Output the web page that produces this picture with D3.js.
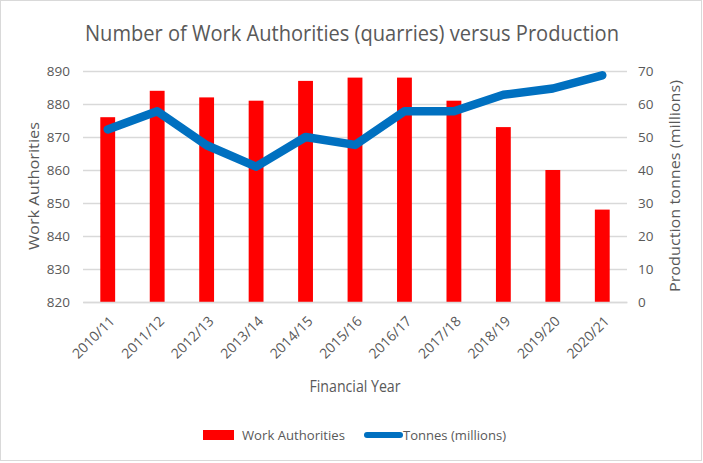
<!DOCTYPE html>
<html>
<head>
<meta charset="utf-8">
<script src="https://cdn.jsdelivr.net/npm/d3@7"></script>
<style>
  body { margin: 0; background: #fff; }
  svg text { font-family: "Open Sans", "Noto Sans", sans-serif; fill: #595959; }
</style>
</head>
<body>
<svg class="combo" width="703" height="463"></svg>
<script>
const years = ['2010/11','2011/12','2012/13','2013/14','2014/15','2015/16','2016/17','2017/18','2018/19','2019/20','2020/21'];
const workAuthorities = [876, 884, 882, 881, 887, 888, 888, 881, 873, 860, 848];
const tonnes = [52.3, 57.8, 47.5, 41, 50, 47.6, 57.8, 57.8, 62.8, 64.7, 68.7];
const leftTicks = [820, 830, 840, 850, 860, 870, 880, 890];
const rightTicks = [0, 10, 20, 30, 40, 50, 60, 70];

function drawCombo(){
  const margin = { top: 71, left: 83, right: 76, bottom: 161 };
  const width = 703 - margin.left - margin.right;
  const height = 463 - margin.top - margin.bottom;

  const svg = d3.select('svg.combo');

  // outer frame
  svg.append('rect')
    .attr('x', 0.5).attr('y', 0.5)
    .attr('width', 701).attr('height', 460)
    .attr('fill', 'none')
    .attr('stroke', '#d9d9d9');

  const g = svg.append('g')
    .attr('transform', `translate(${margin.left}, ${margin.top})`);

  const x = d3.scaleBand()
    .domain(years)
    .range([0, width])
    .paddingInner(0.7)
    .paddingOuter(0.35);

  const yL = d3.scaleLinear().domain([820, 890]).range([height, 0]);
  const yR = d3.scaleLinear().domain([0, 70]).range([height, 0]);

  // gridlines
  g.append('g')
    .attr('class', 'grid')
    .call(d3.axisLeft(yL).tickValues(leftTicks).tickSize(-width).tickFormat(''))
    .call(a => a.select('.domain').remove())
    .call(a => a.selectAll('line').attr('stroke', '#d9d9d9').attr('stroke-width', 1.3));

  // left axis labels
  g.append('g')
    .call(d3.axisLeft(yL).tickValues(leftTicks).tickSize(0).tickPadding(13))
    .call(a => a.select('.domain').remove())
    .call(a => a.selectAll('text').style('font-size', '13.5px').attr('fill', '#595959'));

  // right axis labels
  g.append('g')
    .attr('transform', `translate(${width}, 0)`)
    .call(d3.axisRight(yR).tickValues(rightTicks).tickSize(0).tickPadding(11))
    .call(a => a.select('.domain').remove())
    .call(a => a.selectAll('text').style('font-size', '13.5px').attr('fill', '#595959'));

  // bars
  g.selectAll('rect.bar')
    .data(years)
    .enter()
    .append('rect')
      .attr('class', 'bar')
      .attr('x', d => x(d))
      .attr('width', x.bandwidth())
      .attr('y', (d, i) => yL(workAuthorities[i]))
      .attr('height', (d, i) => height - yL(workAuthorities[i]))
      .attr('fill', '#ff0000');

  // x axis
  const xAxis = g.append('g')
    .attr('transform', `translate(0, ${height})`)
    .call(d3.axisBottom(x).tickSize(0).tickPadding(0));
  xAxis.select('.domain').attr('stroke', '#d9d9d9').attr('stroke-width', 1.3);
  xAxis.selectAll('text')
    .style('font-size', '14px')
    .attr('fill', '#595959')
    .style('text-anchor', 'end')
    .attr('dy', 0)
    .attr('transform', 'translate(8, 20) rotate(-45)');

  // line
  const line = d3.line()
    .x((d, i) => x(years[i]) + x.bandwidth() / 2)
    .y(d => yR(d));

  g.append('path')
    .datum(tonnes)
    .attr('d', line)
    .attr('fill', 'none')
    .attr('stroke', '#0070c0')
    .attr('stroke-width', 8.5)
    .attr('stroke-linecap', 'round')
    .attr('stroke-linejoin', 'round');

  // titles
  svg.append('text')
    .text('Number of Work Authorities (quarries) versus Production')
    .attr('x', 352)
    .attr('y', 41)
    .attr('textLength', 534)
    .attr('lengthAdjust', 'spacingAndGlyphs')
    .style('font-size', '21px')
    .style('text-anchor', 'middle');

  svg.append('text')
    .text('Work Authorities')
    .attr('transform', 'translate(39, 186) rotate(-90)')
    .attr('textLength', 128)
    .attr('lengthAdjust', 'spacingAndGlyphs')
    .style('font-size', '15px')
    .style('text-anchor', 'middle');

  svg.append('text')
    .text('Production tonnes (millions)')
    .attr('transform', 'translate(680, 186) rotate(-90)')
    .attr('textLength', 212)
    .attr('lengthAdjust', 'spacingAndGlyphs')
    .style('font-size', '15px')
    .style('text-anchor', 'middle');

  svg.append('text')
    .text('Financial Year')
    .attr('x', 355)
    .attr('y', 392)
    .attr('textLength', 91)
    .attr('lengthAdjust', 'spacingAndGlyphs')
    .style('font-size', '16px')
    .style('text-anchor', 'middle');

  // legend
  const legend = svg.append('g');
  legend.append('rect')
    .attr('x', 203).attr('y', 430)
    .attr('width', 31).attr('height', 10)
    .attr('fill', '#ff0000');
  legend.append('text')
    .text('Work Authorities')
    .attr('x', 242).attr('y', 440)
    .attr('textLength', 103)
    .attr('lengthAdjust', 'spacingAndGlyphs')
    .style('font-size', '13.5px');
  legend.append('line')
    .attr('x1', 367).attr('x2', 400)
    .attr('y1', 435).attr('y2', 435)
    .attr('stroke', '#0070c0')
    .attr('stroke-width', 6)
    .attr('stroke-linecap', 'round');
  legend.append('text')
    .text('Tonnes (millions)')
    .attr('x', 403).attr('y', 440)
    .attr('textLength', 103)
    .attr('lengthAdjust', 'spacingAndGlyphs')
    .style('font-size', '13.5px');
}

drawCombo();
</script>
</body>
</html>
